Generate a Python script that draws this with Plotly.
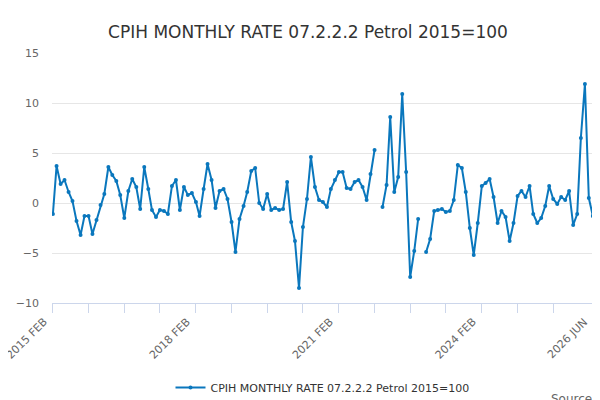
import pandas as pd
import plotly.graph_objects as go

# monthly rate, % (None = no value published)
values = [
    -1.1, 3.7, 1.9, 2.3, 1.1, 0.2, -1.8, -3.2, -1.3, -1.3, -3.1, -1.7, -0.2, 0.9, 3.6, 2.8,
    2.2, 0.8, -1.5, 1.2, 2.4, 1.6, -0.6, 3.6, 1.4, -0.7, -1.4, -0.7, -0.8, -1.1, 1.7, 2.3,
    -0.7, 1.6, 0.8, 1.0, 0.1, -1.3, 1.4, 3.9, 2.3, -0.5, 1.2, 1.4, 0.4, -1.9, -4.9, -1.6,
    -0.3, 1.1, 3.2, 3.5, 0.0, -0.6, 0.9, -0.7, -0.5, -0.7, -0.6, 2.1, -1.9, -3.8, -8.5, -2.4,
    0.4, 4.6, 1.6, 0.3, 0.1, -0.4, 1.4, 2.3, 3.1, 3.1, 1.5, 1.4, 2.1, 2.3, 1.6, 0.3,
    2.9, 5.3, None, -0.4, 1.8, 8.6, 1.1, 2.6, 10.9, 3.1, -7.4, -4.8, -1.6, None, -4.9, -3.6,
    -0.8, -0.7, -0.6, -0.9, -0.8, 0.3, 3.8, 3.5, 1.1, -2.5, -5.2, -2.0, 1.7, 2.0, 2.4, 0.6,
    -2.0, -0.8, -1.4, -3.8, -2.0, 0.7, 1.2, 0.6, 1.7, -1.1, -2.0, -1.5, -0.3, 1.7, 0.4, -0.1,
    0.6, 0.3, 1.2, -2.2, -1.1, 6.5, 11.9, 0.5, -1.3,
]
months = pd.date_range("2015-02-01", periods=len(values), freq="MS")

tick_dates = list(pd.date_range("2015-02-01", "2026-06-01", freq="9MS"))
tick_dates[-1] = pd.Timestamp("2026-06-01")
label_dates = ["2015-02-01", "2018-02-01", "2021-02-01", "2024-02-01", "2026-06-01"]
label_text = ["2015 FEB", "2018 FEB", "2021 FEB", "2024 FEB", "2026 JUN"]

color = "#0a77bd"
fig = go.Figure()
fig.add_trace(go.Scatter(x=months, y=values, mode="lines+markers", connectgaps=False,
                         name="CPIH MONTHLY RATE 07.2.2.2 Petrol 2015=100",
                         line=dict(color=color, width=2), marker=dict(color=color, size=4)))

fig.update_layout(
    width=600, height=400,
    title=dict(text="CPIH MONTHLY RATE 07.2.2.2 Petrol 2015=100", x=0.5, y=0.955,
               font=dict(family="DejaVu Sans", size=17, color="#333")),
    font=dict(family="DejaVu Sans", size=11, color="#666"),
    plot_bgcolor="white", paper_bgcolor="white",
    margin=dict(l=44, r=15, t=45, b=105, autoexpand=False),
    showlegend=True,
    legend=dict(orientation="h", x=0.5, xanchor="center", y=-0.28, yanchor="top",
                font=dict(size=11, color="#333")),
    xaxis=dict(range=["2015-01-25", "2026-06-02"], tickvals=tick_dates, showticklabels=False,
               ticks="outside", ticklen=9, tickcolor="#ccd6eb",
               showline=True, linecolor="#ccd6eb", showgrid=False),
    yaxis=dict(range=[-10, 15], dtick=5, gridcolor="#e6e6e6", zeroline=False,
               ticks="", ticklabelstandoff=12),
)
for d, t in zip(label_dates, label_text):
    fig.add_annotation(text=t, x=d, xref="x", y=-0.04, yref="paper", textangle=-45,
                       xanchor="right", yanchor="top", showarrow=False,
                       font=dict(size=11, color="#666"))
fig.add_annotation(text="Source:", xref="paper", yref="paper", x=1.01, y=-0.42,
                   xanchor="right", showarrow=False, font=dict(size=12, color="#666"))

fig.write_html("out.html")
